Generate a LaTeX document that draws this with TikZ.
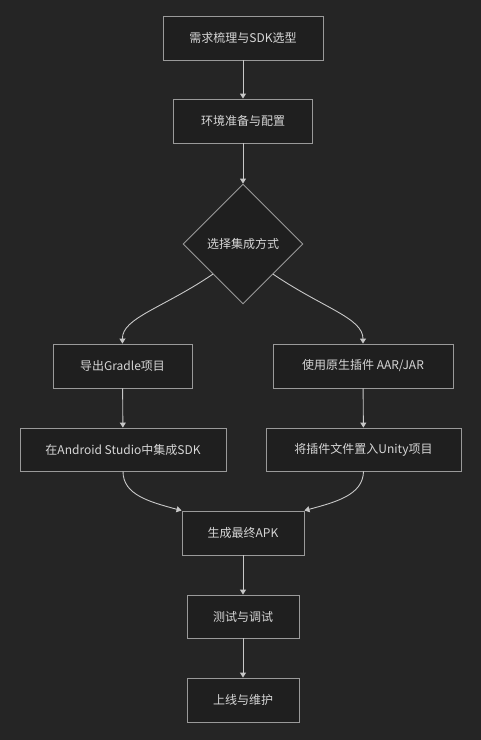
\documentclass[tikz,border=0pt]{standalone}
\usepackage{fontspec}
\setmainfont{Noto Sans CJK SC}
\usepackage{tikz}
\usetikzlibrary{%
	calc,%
	arrows.meta,%
	shapes
}
\definecolor{bgdark}{HTML}{252525}
\definecolor{boxfill}{HTML}{1F1F1F}
\definecolor{boxline}{HTML}{9A9A9A}
\definecolor{txtgray}{HTML}{D6D6D6}
\definecolor{linegray}{HTML}{C8C8C8}

\begin{document}
\begin{tikzpicture}[x=1pt, y=1pt,
	stepbox/.style={draw=boxline, fill=boxfill, line width=0.9pt, text=txtgray, font=\fontsize{12}{14}\selectfont, inner sep=0pt, minimum height=44pt},
	choice/.style={diamond, aspect=1, draw=boxline, fill=boxfill, line width=0.9pt, text=txtgray, font=\fontsize{12}{14}\selectfont, inner sep=0pt, minimum width=120pt, minimum height=120pt},
	flow/.style={draw=linegray, line width=0.9pt, -{Triangle[length=5pt, width=6pt]}}]
	% Background
	\fill[bgdark] (0,0) rectangle (481,-740);
	\useasboundingbox (0,0) rectangle (481,-740);
	% Nodes
	\node[stepbox, minimum width=160pt] (req) at (243,-38) {需求梳理与SDK选型};
	\node[stepbox, minimum width=139pt] (env) at (243,-121) {环境准备与配置};
	\node[choice] (choose) at (243,-244) {选择集成方式};
	\node[stepbox, minimum width=139pt] (gradle) at (122.5,-366) {导出Gradle项目};
	\node[stepbox, minimum width=180pt] (plugin) at (363,-366) {使用原生插件 AAR/JAR};
	\node[stepbox, minimum width=206pt, minimum height=43pt] (studio) at (123,-449.5) {在Android Studio中集成SDK};
	\node[stepbox, minimum width=195pt, minimum height=43pt] (unity) at (363.5,-449.5) {将插件文件置入Unity项目};
	\node[stepbox, minimum width=122pt] (apk) at (243,-533) {生成最终APK};
	\node[stepbox, minimum width=112pt, minimum height=43pt] (test) at (243,-616.5) {测试与调试};
	\node[stepbox, minimum width=112pt] (online) at (243,-700) {上线与维护};
	% Connectors
	\draw[flow] (req) -- (env);
	\draw[flow] (env) -- (choose);
	\draw[flow] (choose.south west) .. controls (163,-308) and (122,-318) .. (gradle.north);
	\draw[flow] (choose.south east) .. controls (323,-308) and (363,-318) .. (plugin.north);
	\draw[flow] (gradle) -- (studio);
	\draw[flow] (plugin) -- (unity);
	\draw[flow] (studio.south) .. controls (123,-495) and (150,-502) .. (apk.north west);
	\draw[flow] (unity.south) .. controls (363,-495) and (336,-502) .. (apk.north east);
	\draw[flow] (apk) -- (test);
	\draw[flow] (test) -- (online);
\end{tikzpicture}
\end{document}
